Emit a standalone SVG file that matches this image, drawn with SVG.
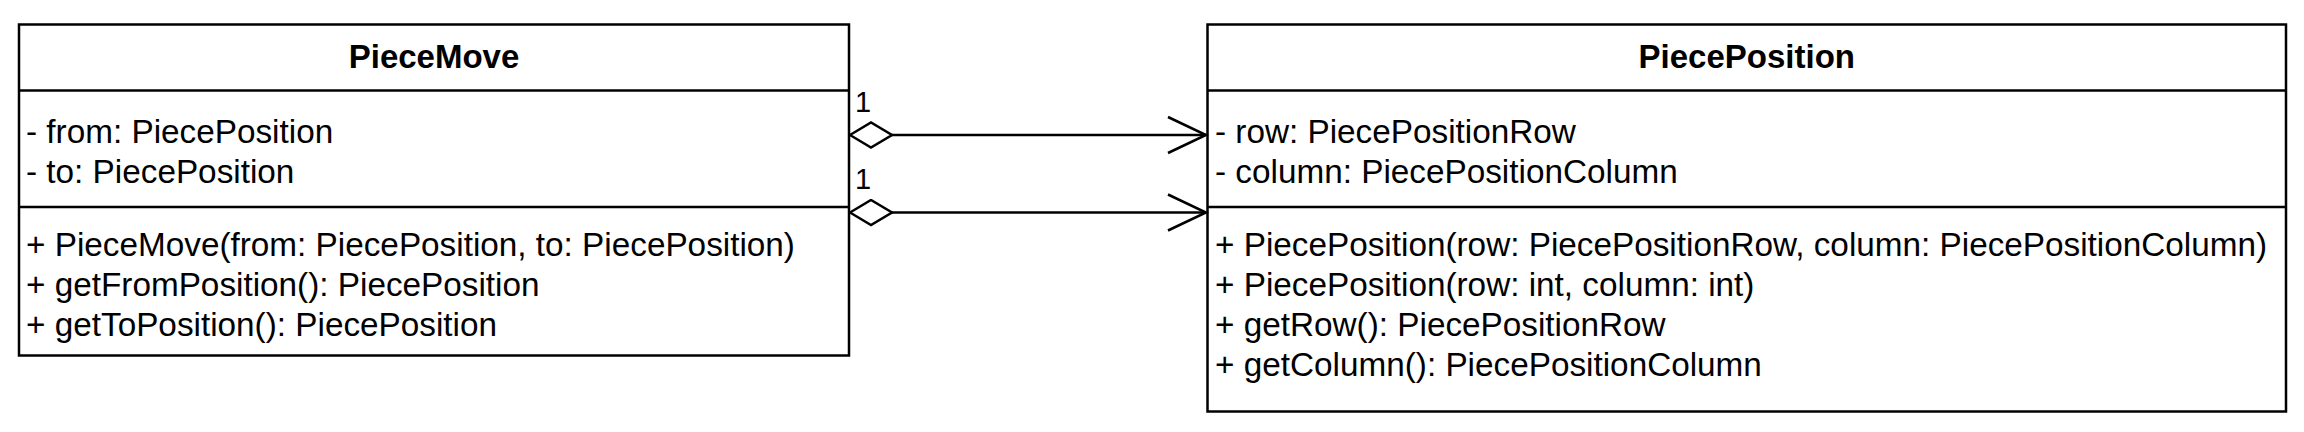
<svg xmlns="http://www.w3.org/2000/svg" width="2304" height="432" viewBox="0 0 2304 432">
<style>
  .box { fill: #ffffff; stroke: #000000; stroke-width: 2.5; }
  .div { stroke: #000000; stroke-width: 2.5; fill: none; }
  .t { font-family: "Liberation Sans", Arial, Helvetica, sans-serif; font-size: 33.3px; fill: #000000; }
  .title { font-family: "Liberation Sans", Arial, Helvetica, sans-serif; font-size: 33px; font-weight: bold; fill: #000000; text-anchor: middle; }
  .lbl { font-family: "Liberation Sans", Arial, Helvetica, sans-serif; font-size: 29px; fill: #000000; }
  .edge { stroke: #000000; stroke-width: 2.5; fill: none; }
</style>
<defs>
  <marker id="diamond" markerWidth="46" markerHeight="30" refX="1" refY="14" orient="auto" markerUnits="userSpaceOnUse">
    <path d="M1,14 L22,1.5 L43,14 L22,26.5 Z" fill="#ffffff" stroke="#000000" stroke-width="2.5"/>
  </marker>
  <marker id="open" markerWidth="44" markerHeight="44" refX="40" refY="20" orient="auto" markerUnits="userSpaceOnUse">
    <path d="M2,2 L40,20 L2,38" fill="none" stroke="#000000" stroke-width="2.5"/>
  </marker>
</defs>
<rect width="2304" height="432" fill="#ffffff"/>
<g id="PieceMove">
  <rect class="box" x="19" y="24.5" width="830" height="331"/>
  <line class="div" x1="19" y1="90.5" x2="849" y2="90.5"/>
  <line class="div" x1="19" y1="207" x2="849" y2="207"/>
  <text class="title" x="434" y="68">PieceMove</text>
  <text class="t" x="26" y="143">- from: PiecePosition</text>
  <text class="t" x="26" y="183">- to: PiecePosition</text>
  <text class="t" x="26" y="256">+ PieceMove(from: PiecePosition, to: PiecePosition)</text>
  <text class="t" x="26" y="296">+ getFromPosition(): PiecePosition</text>
  <text class="t" x="26" y="336">+ getToPosition(): PiecePosition</text>
</g>
<g id="PiecePosition">
  <rect class="box" x="1207.5" y="24.5" width="1078.5" height="387"/>
  <line class="div" x1="1207.5" y1="90.5" x2="2286" y2="90.5"/>
  <line class="div" x1="1207.5" y1="207" x2="2286" y2="207"/>
  <text class="title" x="1746.75" y="68">PiecePosition</text>
  <text class="t" x="1215" y="143">- row: PiecePositionRow</text>
  <text class="t" x="1215" y="183">- column: PiecePositionColumn</text>
  <text class="t" x="1215" y="256">+ PiecePosition(row: PiecePositionRow, column: PiecePositionColumn)</text>
  <text class="t" x="1215" y="296">+ PiecePosition(row: int, column: int)</text>
  <text class="t" x="1215" y="336">+ getRow(): PiecePositionRow</text>
  <text class="t" x="1215" y="376">+ getColumn(): PiecePositionColumn</text>
</g>
<g id="connectors">
  <line class="edge" x1="850" y1="135" x2="1206" y2="135" marker-start="url(#diamond)" marker-end="url(#open)"/>
  <line class="edge" x1="850" y1="212.5" x2="1206" y2="212.5" marker-start="url(#diamond)" marker-end="url(#open)"/>
  <text class="lbl" x="855" y="112">1</text>
  <text class="lbl" x="855" y="189">1</text>
</g>
</svg>
